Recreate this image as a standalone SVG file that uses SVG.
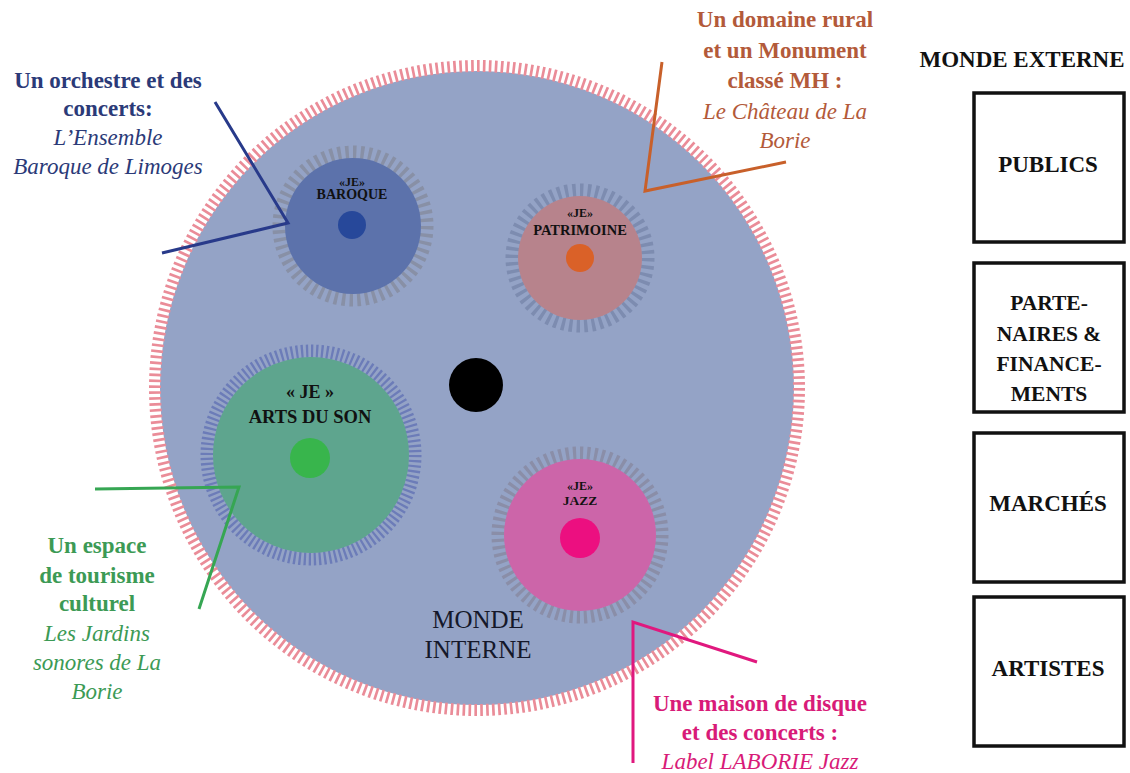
<svg xmlns="http://www.w3.org/2000/svg" width="1130" height="773" viewBox="0 0 1130 773">
<style>
text{font-family:"Liberation Serif","DejaVu Serif",serif;text-anchor:middle}
.b{font-weight:bold}
.i{font-style:italic}
.lbl{font-size:23px}
.ext{font-size:23px;font-weight:bold;fill:#111}
.box{fill:#fff;stroke:#111;stroke-width:3.5}
.lead{fill:none;stroke-width:3;stroke-linejoin:miter}
</style>
<rect width="1130" height="773" fill="#fff"/>
<g id="monde-interne">
<circle cx="477" cy="388" r="317" fill="#94a3c6"/>
<circle cx="477" cy="388" r="322" fill="none" stroke="#ea8c98" stroke-width="12" pathLength="680" stroke-dasharray="0.9 1.1"/>
<circle cx="476" cy="385" r="27" fill="#000"/>
<text x="478" y="628" style="font-size:25px" fill="#15182a">MONDE</text>
<text x="478" y="658" style="font-size:25px" fill="#15182a">INTERNE</text>
</g>
<g id="je-baroque">
<circle cx="353" cy="226" r="74" fill="none" stroke="#8890a6" stroke-width="13" pathLength="120" stroke-dasharray="0.9 1.1"/>
<circle cx="353" cy="226" r="68" fill="#5c72ab"/>
<circle cx="352" cy="225" r="14" fill="#27489a"/>
<text x="352" y="186" class="b" style="font-size:12px" fill="#111">«JE»</text>
<text x="352" y="199" class="b" style="font-size:14px" fill="#111">BAROQUE</text>
</g>
<g id="je-patrimoine">
<circle cx="580" cy="258" r="68" fill="none" stroke="#7d8cb0" stroke-width="13" pathLength="112" stroke-dasharray="0.9 1.1"/>
<circle cx="580" cy="258" r="62" fill="#b7838c"/>
<circle cx="580" cy="258" r="14" fill="#da6128"/>
<text x="580" y="217" class="b" style="font-size:12px" fill="#111">«JE»</text>
<text x="580" y="235" class="b" style="font-size:14.5px" fill="#111">PATRIMOINE</text>
</g>
<g id="je-arts-du-son">
<circle cx="311" cy="455" r="104" fill="none" stroke="#6c7cb8" stroke-width="13" pathLength="256" stroke-dasharray="0.9 1.1"/>
<circle cx="311" cy="455" r="98" fill="#5ea58e"/>
<circle cx="310" cy="458" r="20" fill="#38b54c"/>
<text x="310" y="398" class="b" style="font-size:18px" fill="#111">« JE »</text>
<text x="310" y="423" class="b" style="font-size:18.5px" fill="#111">ARTS DU SON</text>
</g>
<g id="je-jazz">
<circle cx="580" cy="535" r="82" fill="none" stroke="#8a8ea8" stroke-width="13" pathLength="144" stroke-dasharray="0.9 1.1"/>
<circle cx="580" cy="535" r="76" fill="#cc65a9"/>
<circle cx="580" cy="538" r="20" fill="#ec0f80"/>
<text x="580" y="490" class="b" style="font-size:12px" fill="#111">«JE»</text>
<text x="580" y="505" class="b" style="font-size:13.5px" fill="#111">JAZZ</text>
</g>
<g id="connectors">
<polyline class="lead" stroke="#283a8a" points="215,102 288,223 162,253"/>
<polyline class="lead" stroke="#c8602a" points="662,62 645,191 786,162"/>
<polyline class="lead" stroke="#36a653" points="95,489 239,487 199,609"/>
<polyline class="lead" stroke="#e0187e" points="633,763 633,622 757,662"/>
</g>
<g id="label-baroque" fill="#2b3a78">
<text x="108" y="88" class="lbl b">Un orchestre et des</text>
<text x="108" y="116" class="lbl b">concerts:</text>
<text x="108" y="145" class="lbl i">L’Ensemble</text>
<text x="108" y="174" class="lbl i">Baroque de Limoges</text>
</g>
<g id="label-patrimoine" fill="#b35a3a">
<text x="785" y="27" class="lbl b">Un domaine rural</text>
<text x="785" y="58" class="lbl b">et un Monument</text>
<text x="785" y="88" class="lbl b">classé MH :</text>
<text x="785" y="119" class="lbl i">Le Château de La</text>
<text x="785" y="148" class="lbl i">Borie</text>
</g>
<g id="label-arts-du-son" fill="#3c9a55">
<text x="97" y="553" class="lbl b">Un espace</text>
<text x="97" y="583" class="lbl b">de tourisme</text>
<text x="97" y="611" class="lbl b">culturel</text>
<text x="97" y="641" class="lbl i">Les Jardins</text>
<text x="97" y="670" class="lbl i">sonores de La</text>
<text x="97" y="699" class="lbl i">Borie</text>
</g>
<g id="label-jazz" fill="#d81b78">
<text x="760" y="711" class="lbl b">Une maison de disque</text>
<text x="760" y="740" class="lbl b">et des concerts :</text>
<text x="760" y="769" class="lbl i">Label LABORIE Jazz</text>
</g>
<g id="monde-externe">
<text x="1022" y="67" class="ext">MONDE EXTERNE</text>
</g>
<g id="publics">
<rect x="974" y="93" width="150" height="149" class="box"/>
<text x="1048" y="172" class="ext">PUBLICS</text>
</g>
<g id="partenaires">
<rect x="974" y="263" width="150" height="149" class="box"/>
<text x="1049" y="310" class="ext" style="font-size:21.5px">PARTE-</text>
<text x="1049" y="341" class="ext" style="font-size:21.5px">NAIRES &amp;</text>
<text x="1049" y="371" class="ext" style="font-size:21.5px">FINANCE-</text>
<text x="1049" y="401" class="ext" style="font-size:21.5px">MENTS</text>
</g>
<g id="marches">
<rect x="974" y="433" width="150" height="149" class="box"/>
<text x="1048" y="511" class="ext">MARCHÉS</text>
</g>
<g id="artistes">
<rect x="974" y="597" width="150" height="149" class="box"/>
<text x="1048" y="676" class="ext">ARTISTES</text>
</g>
</svg>
